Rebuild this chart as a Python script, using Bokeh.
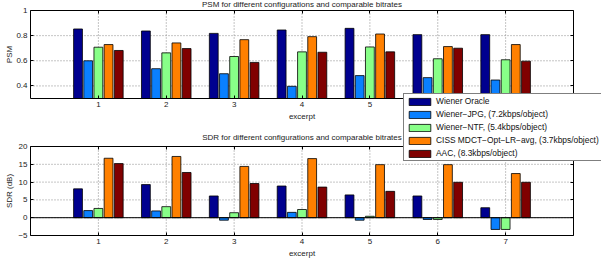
import math
from bokeh.plotting import figure
from bokeh.models import (Range1d, FixedTicker, LinearAxis, Legend, LegendItem, Label,
                          CustomJSTickFormatter)
from bokeh.embed import file_html
from bokeh.resources import INLINE

# ---------------- data ----------------
excerpts = [1, 2, 3, 4, 5, 6, 7]
series_names = [
    "Wiener Oracle",
    "Wiener\u2212JPG, (7.2kbps/object)",
    "Wiener\u2212NTF, (5.4kbps/object)",
    "CISS MDCT\u2212Opt\u2212LR\u2212avg, (3.7kbps/object)",
    "AAC, (8.3kbps/object)",
]
colors = ["#00008F", "#0A80FF", "#88FF88", "#FF8000", "#800000"]

psm_oracle = [0.853, 0.837, 0.818, 0.845, 0.858, 0.808, 0.808]
psm_jpg = [0.600, 0.537, 0.497, 0.397, 0.482, 0.466, 0.447]
psm_ntf = [0.708, 0.663, 0.634, 0.671, 0.710, 0.616, 0.608]
psm_ciss = [0.729, 0.742, 0.768, 0.792, 0.813, 0.713, 0.729]
psm_aac = [0.682, 0.697, 0.587, 0.668, 0.671, 0.700, 0.597]

sdr_oracle = [8.1, 9.3, 6.1, 8.9, 6.4, 6.1, 2.8]
sdr_jpg = [2.0, 1.9, -0.7, 1.5, -0.7, -0.5, -3.3]
sdr_ntf = [2.6, 3.1, 1.4, 2.3, 0.4, -0.5, -3.3]
sdr_ciss = [16.7, 17.2, 14.4, 16.6, 14.9, 14.9, 12.4]
sdr_aac = [15.2, 12.7, 9.6, 8.6, 7.4, 9.95, 9.95]

psm_ticks = [0.4, 0.6, 0.8, 1.0]
sdr_ticks = [-5, 0, 5, 10, 15, 20]
psm_lim = (0.3, 1.0)
sdr_lim = (-5, 20)
x_lim = (0, 8)

psm_title = "PSM for different configurations and comparable bitrates"
sdr_title = "SDR for different configurations and comparable bitrates"
psm_ylabel = "PSM"
sdr_ylabel = "SDR (dB)"
xlabel = "excerpt"

# ---------------- layout (pixels) ----------------
W, H = 601, 266
X_PX = (30, 573)                # left / right pixel columns of both panels
PSM_PX = (10, 98)               # top / bottom pixel rows of PSM panel
SDR_PX = (146, 235)             # top / bottom pixel rows of SDR panel
FONT = "Liberation Sans"
TXT = "#222222"


def full_range(lim, px, total, flip):
    k = (px[1] - px[0]) / (lim[1] - lim[0])
    if flip:  # vertical: pixel rows grow downward
        return Range1d(lim[0] - (total - px[1]) / k, lim[1] + px[0] / k)
    return Range1d(lim[0] - px[0] / k, lim[1] + (total - px[1]) / k)


p = figure(width=W, height=H,
           x_range=full_range(x_lim, X_PX, W, False),
           y_range=full_range(sdr_lim, SDR_PX, H, True),
           x_axis_type=None, y_axis_type=None,
           output_backend="svg", toolbar_location=None,
           min_border_left=0, min_border_right=0, min_border_top=0, min_border_bottom=0)
p.extra_y_ranges = {"psm": full_range(psm_lim, PSM_PX, H, True)}
p.outline_line_color = None

hide = CustomJSTickFormatter(code="return ''")


def style_axis(ax):
    ax.axis_label_text_font = FONT
    ax.axis_label_text_font_size = "8px"
    ax.axis_label_text_font_style = "normal"
    ax.axis_label_text_color = TXT
    ax.major_label_text_font = FONT
    ax.major_label_text_font_size = "8px"
    ax.major_label_text_color = TXT
    ax.major_tick_in = 3
    ax.major_tick_out = 0
    ax.minor_tick_line_color = None
    ax.axis_line_color = "black"
    ax.axis_line_width = 1
    ax.major_tick_line_color = "black"
    ax.major_label_standoff = 3
    ax.axis_label_standoff = 2
    return ax


GRID_COL = "#8a8a8a"
GRID_DASH = "1 2"

panels = [("default", sdr_lim, sdr_ticks, sdr_ylabel, sdr_title, 9),
          ("psm", psm_lim, psm_ticks, psm_ylabel, psm_title, 6)]

for rname, lim, ticks, ylab, title, title_off in panels:
    # grid (dotted), restricted to the panel box
    inner = [t for t in ticks if lim[0] < t < lim[1]]
    p.segment(x0=x_lim[0], x1=x_lim[1], y0=inner, y1=inner, line_color=GRID_COL,
              line_dash=GRID_DASH, level="underlay", y_range_name=rname)
    p.segment(x0=excerpts, x1=excerpts, y0=lim[0], y1=lim[1], line_color=GRID_COL,
              line_dash=GRID_DASH, level="underlay", y_range_name=rname)

    left = style_axis(LinearAxis(y_range_name=rname, fixed_location=x_lim[0], bounds=lim,
                                 ticker=FixedTicker(ticks=ticks)))
    p.add_layout(left, "left")
    bottom = style_axis(LinearAxis(y_range_name=rname, fixed_location=lim[0], bounds=x_lim,
                                   ticker=FixedTicker(ticks=excerpts), axis_label=xlabel))
    p.add_layout(bottom, "below")
    top = style_axis(LinearAxis(y_range_name=rname, fixed_location=lim[1], bounds=x_lim,
                                ticker=FixedTicker(ticks=excerpts), formatter=hide))
    p.add_layout(top, "above")
    right = style_axis(LinearAxis(y_range_name=rname, fixed_location=x_lim[1], bounds=lim,
                                  ticker=FixedTicker(ticks=ticks), formatter=hide))
    p.add_layout(right, "right")

    # y axis label
    p.add_layout(Label(x=x_lim[0], y=(lim[0] + lim[1]) / 2, y_range_name=rname,
                       x_offset=-21, text=ylab, angle=math.pi / 2,
                       text_align="center", text_baseline="middle", text_font=FONT,
                       text_font_size="8px", text_color=TXT))
    # panel title
    p.add_layout(Label(x=(x_lim[0] + x_lim[1]) / 2, y=lim[1], y_range_name=rname,
                       y_offset=title_off, text=title, text_align="center",
                       text_baseline="middle", text_font=FONT, text_font_size="8px",
                       text_color=TXT))

# bars
psm_series = [psm_oracle, psm_jpg, psm_ntf, psm_ciss, psm_aac]
sdr_series = [sdr_oracle, sdr_jpg, sdr_ntf, sdr_ciss, sdr_aac]
offsets = [-0.3, -0.15, 0.0, 0.15, 0.3]
BAR_W = 0.13
renderers = []
for i, (ps, ss) in enumerate(zip(psm_series, sdr_series)):
    xs = [e + offsets[i] for e in excerpts]
    p.vbar(x=xs, top=ps, bottom=psm_lim[0], width=BAR_W, fill_color=colors[i],
           line_color="black", line_width=0.8, y_range_name="psm")
    r = p.vbar(x=xs, top=ss, bottom=0, width=BAR_W, fill_color=colors[i],
               line_color="black", line_width=0.8)
    renderers.append(r)

# zero baseline of SDR panel
p.segment(x0=x_lim[0], x1=x_lim[1], y0=0, y1=0, line_color="black", line_width=1)

# legend (location is offset of its lower-left corner from the frame's lower-left)
legend = Legend(items=[LegendItem(label=n, renderers=[r]) for n, r in zip(series_names, renderers)],
                location=(403, 105), orientation="vertical")
legend.label_text_font = FONT
legend.label_text_font_size = "8.4px"
legend.label_text_color = "#111111"
legend.glyph_width = 27
legend.glyph_height = 9
legend.label_height = 9
legend.label_standoff = 3
legend.spacing = 3
legend.padding = 2
legend.margin = 0
legend.border_line_color = "black"
legend.border_line_width = 1
legend.background_fill_color = "white"
legend.background_fill_alpha = 1
p.add_layout(legend, "center")

open("out.html", "w").write(file_html(p, INLINE))
